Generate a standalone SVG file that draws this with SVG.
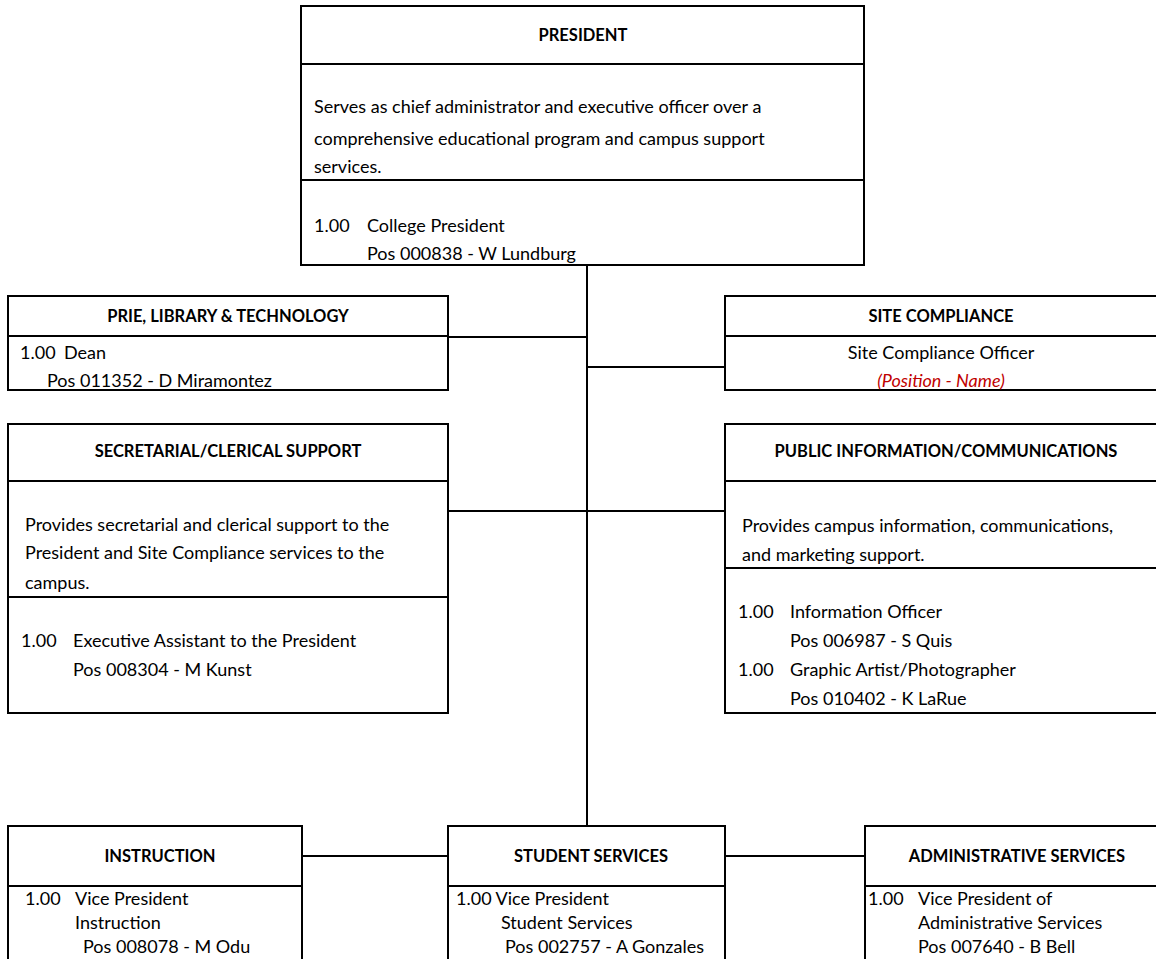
<svg xmlns="http://www.w3.org/2000/svg" width="1156" height="959" viewBox="0 0 1156 959">
<style>
.box{fill:#fff;stroke:#000;stroke-width:2}
.div{stroke:#000;stroke-width:2}
.con{stroke:#000;stroke-width:2;fill:none}
text{font-family:Lato,"Open Sans","Liberation Sans",sans-serif;font-size:18px;fill:#000}
.t{font-weight:bold;font-size:16.5px;text-anchor:middle}
.c{text-anchor:middle}
.red{fill:#c00000;font-style:italic}
</style>
<rect width="1156" height="959" fill="#fff"/>
<g id="connectors">
<line class="con" x1="587" y1="265" x2="587" y2="826"/>
<line class="con" x1="448" y1="337" x2="587" y2="337"/>
<line class="con" x1="587" y1="367" x2="725" y2="367"/>
<line class="con" x1="448" y1="511" x2="725" y2="511"/>
<line class="con" x1="302" y1="856" x2="448" y2="856"/>
<line class="con" x1="725" y1="856" x2="865" y2="856"/>
</g>
<g id="president">
<rect class="box" x="301" y="6" width="563" height="259"/>
<line class="div" x1="301" y1="64" x2="864" y2="64"/>
<line class="div" x1="301" y1="180" x2="864" y2="180"/>
<text class="t" x="583" y="41">PRESIDENT</text>
<text x="314" y="113">Serves as chief administrator and executive officer over a</text>
<text x="314" y="145">comprehensive educational program and campus support</text>
<text x="314" y="173">services.</text>
<text x="314" y="232">1.00</text>
<text x="367" y="232">College President</text>
<text x="367" y="260">Pos 000838 - W Lundburg</text>
</g>
<g id="prie">
<rect class="box" x="8" y="296" width="440" height="94"/>
<line class="div" x1="8" y1="336" x2="448" y2="336"/>
<text class="t" x="228" y="322">PRIE, LIBRARY &amp; TECHNOLOGY</text>
<text x="20" y="359">1.00</text>
<text x="64" y="359">Dean</text>
<text x="47" y="387">Pos 011352 - D Miramontez</text>
</g>
<g id="site-compliance">
<rect class="box" x="725" y="296" width="440" height="94"/>
<line class="div" x1="725" y1="336" x2="1165" y2="336"/>
<text class="t" x="941" y="322">SITE COMPLIANCE</text>
<text class="c" x="941" y="359">Site Compliance Officer</text>
<text class="c red" x="941" y="387">(Position - Name)</text>
</g>
<g id="secretarial">
<rect class="box" x="8" y="424" width="440" height="289"/>
<line class="div" x1="8" y1="481" x2="448" y2="481"/>
<line class="div" x1="8" y1="597" x2="448" y2="597"/>
<text class="t" x="228" y="457">SECRETARIAL/CLERICAL SUPPORT</text>
<text x="25" y="531">Provides secretarial and clerical support to the</text>
<text x="25" y="559">President and Site Compliance services to the</text>
<text x="25" y="589">campus.</text>
<text x="21" y="647">1.00</text>
<text x="73" y="647">Executive Assistant to the President</text>
<text x="73" y="676">Pos 008304 - M Kunst</text>
</g>
<g id="public-info">
<rect class="box" x="725" y="424" width="440" height="289"/>
<line class="div" x1="725" y1="481" x2="1165" y2="481"/>
<line class="div" x1="725" y1="568" x2="1165" y2="568"/>
<text class="t" x="946" y="457">PUBLIC INFORMATION/COMMUNICATIONS</text>
<text x="742" y="532">Provides campus information, communications,</text>
<text x="742" y="561">and marketing support.</text>
<text x="738" y="618">1.00</text>
<text x="790" y="618">Information Officer</text>
<text x="790" y="647">Pos 006987 - S Quis</text>
<text x="738" y="676">1.00</text>
<text x="790" y="676">Graphic Artist/Photographer</text>
<text x="790" y="705">Pos 010402 - K LaRue</text>
</g>
<g id="instruction">
<rect class="box" x="8" y="826" width="294" height="140"/>
<line class="div" x1="8" y1="886" x2="302" y2="886"/>
<text class="t" x="160" y="862">INSTRUCTION</text>
<text x="25" y="905">1.00</text>
<text x="75" y="905">Vice President</text>
<text x="75" y="929">Instruction</text>
<text x="83" y="953">Pos 008078 - M Odu</text>
</g>
<g id="student-services">
<rect class="box" x="448" y="826" width="277" height="140"/>
<line class="div" x1="448" y1="886" x2="725" y2="886"/>
<text class="t" x="591" y="862">STUDENT SERVICES</text>
<text x="456" y="905">1.00 Vice President</text>
<text x="501" y="929">Student Services</text>
<text x="505" y="953">Pos 002757 - A Gonzales</text>
</g>
<g id="administrative-services">
<rect class="box" x="865" y="826" width="300" height="140"/>
<line class="div" x1="865" y1="886" x2="1165" y2="886"/>
<text class="t" x="1017" y="862">ADMINISTRATIVE SERVICES</text>
<text x="868" y="905">1.00</text>
<text x="918" y="905">Vice President of</text>
<text x="918" y="929">Administrative Services</text>
<text x="918" y="953">Pos 007640 - B Bell</text>
</g>
</svg>
